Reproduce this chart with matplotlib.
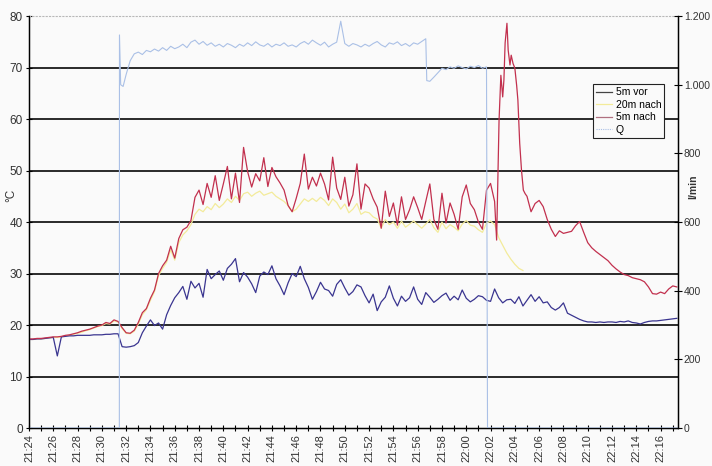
import numpy as np
import matplotlib
matplotlib.use('Agg')
import matplotlib.pyplot as plt
from matplotlib.ticker import MultipleLocator, FixedLocator, FuncFormatter

plt.rcParams['font.family'] = ['Liberation Sans', 'DejaVu Sans']

# time in minutes after 21:24, one sample every 20 s
t = np.arange(161) / 3.0

vor_5m = [17.2, 17.2, 17.3, 17.3, 17.4, 17.5, 17.6, 14.0, 17.7, 17.8,
          17.9, 17.9, 18.0, 18.0, 18.0, 18.0, 18.1, 18.1, 18.1, 18.2,
          18.2, 18.3, 18.3, 15.8, 15.7, 15.8, 16.0, 16.6, 18.5, 19.8,
          21.0, 19.9, 20.4, 19.2, 22.0, 23.8, 25.3, 26.3, 27.5, 25.0,
          28.5, 27.2, 28.1, 25.4, 30.8, 29.0, 29.8, 30.5, 28.7, 31.0,
          31.8, 32.9, 28.4, 30.2, 29.3, 28.0, 26.3, 29.5, 30.3, 29.8,
          31.5, 29.0, 27.6, 25.9, 28.2, 30.0, 29.4, 31.4, 29.0, 27.3,
          25.0, 26.5, 28.3, 27.0, 26.7, 25.6, 27.9, 28.8, 27.2, 25.8,
          26.5, 27.8, 27.4, 25.7, 24.3, 26.0, 22.8, 24.5, 25.4, 27.6,
          25.2, 23.7, 25.6, 24.6, 25.3, 27.4, 25.0, 24.0, 26.3, 25.4,
          24.4, 25.0, 25.7, 26.2, 24.8, 25.6, 24.9, 26.8, 25.2, 24.5,
          25.0, 25.7, 25.5, 24.8, 24.6, 27.0, 25.3, 24.3, 24.9, 25.0,
          24.2, 25.5, 23.7, 24.8, 25.9, 24.6, 25.5, 24.3, 24.5, 23.4,
          22.9, 23.4, 24.3, 22.3, 21.9, 21.5, 21.1, 20.8, 20.6, 20.6,
          20.5, 20.6, 20.5, 20.6, 20.6, 20.5, 20.7, 20.6, 20.8, 20.5,
          20.4, 20.2, 20.5, 20.7, 20.8, 20.8, 20.9, 21.0, 21.1, 21.2,
          21.3]

nach_20m = [17.2, 17.2, 17.3, 17.3, 17.4, 17.5, 17.6, 17.6, 17.7, 17.9,
            18.0, 18.2, 18.4, 18.6, 18.9, 19.1, 19.4, 19.7, 19.9, 20.3,
            20.2, 20.8, 20.6, 19.3, 18.4, 18.3, 18.8, 20.2, 22.0, 23.0,
            24.8, 26.5, 29.6, 31.0, 32.2, 34.6, 32.6, 36.0, 37.5, 38.3,
            39.5, 41.5, 42.5, 42.0, 43.0, 42.4, 43.6, 42.8, 43.5, 44.5,
            43.8, 45.0, 44.2, 45.5, 45.8, 45.0, 45.6, 46.0, 45.2, 45.5,
            45.8, 45.0, 44.5, 44.0, 43.2, 42.0, 42.5, 43.5, 44.5, 44.0,
            44.6, 44.0, 44.8, 44.2, 43.2, 44.5, 43.8, 42.5, 43.5, 41.8,
            42.5, 43.6, 41.5, 42.0, 41.8, 41.0, 40.6, 38.8, 40.5, 39.5,
            40.0, 38.8, 40.2, 39.0, 39.6, 40.2, 39.5, 38.8, 39.6, 40.5,
            38.9, 38.0, 40.0, 38.7, 39.5, 39.0, 38.3, 39.6, 40.3, 39.4,
            39.2, 38.5, 38.0, 39.8, 40.2, 39.5, 37.0, 35.5, 34.0, 32.8,
            31.8, 31.0, 30.6] + [np.nan] * 38

# 5m nach: grid part up to 22:02:20, finer samples around the peak, grid tail
nach_5m_a = [17.3, 17.3, 17.4, 17.4, 17.5, 17.6, 17.7, 17.7, 17.8, 18.0,
             18.1, 18.3, 18.5, 18.8, 19.0, 19.2, 19.5, 19.8, 20.0, 20.5,
             20.3, 21.0, 20.7, 19.5, 18.5, 18.4, 19.0, 20.5, 22.4, 23.2,
             25.2, 26.8, 30.0, 31.5, 32.6, 35.3, 33.0, 36.8, 38.5, 39.0,
             40.3, 44.8, 46.2, 43.4, 47.5, 44.8, 49.0, 44.2, 47.4, 50.8,
             44.5, 49.5, 43.8, 54.5, 49.8, 46.8, 49.4, 48.0, 52.5, 46.9,
             50.6, 48.8, 47.6, 46.2, 43.2, 42.0, 44.6, 47.5, 53.2, 46.4,
             48.7, 47.0, 49.5, 47.4, 44.3, 52.6, 46.6, 44.4, 48.7, 43.1,
             45.3, 51.3, 42.5, 47.4, 46.6, 44.5, 42.9, 38.8, 46.0, 41.1,
             43.7, 39.4, 44.9, 40.5, 42.4, 44.9, 42.8, 40.5, 44.0, 47.4,
             40.5, 38.6, 45.6, 39.8, 43.7, 41.5, 38.6, 44.9, 47.2, 43.6,
             42.4, 40.0, 38.6, 46.2, 47.5, 44.0]
peak_t = [38.5, 38.6, 38.7, 38.85, 39.0, 39.1, 39.2, 39.35, 39.45, 39.6,
          39.7, 39.85, 40.0, 40.15, 40.25, 40.4, 40.55, 40.7, 40.85]
peak_v = [36.5, 48.0, 59.8, 68.5, 64.3, 67.6, 74.8, 78.6, 73.4, 70.5,
          72.4, 70.8, 69.9, 66.5, 63.7, 55.3, 50.0, 46.2, 45.5]
nach_5m_b = [45.0, 42.0, 43.6, 44.2, 43.0, 40.5, 38.6, 37.2, 38.3, 37.8,
             38.0, 38.2, 39.3, 40.1, 38.0, 36.0, 35.0, 34.3, 33.7, 33.1,
             32.5, 31.6, 30.9, 30.3, 29.8, 29.6, 29.2, 29.0, 28.8, 28.4,
             27.4, 26.1, 26.0, 26.4, 26.1, 27.0, 27.6, 27.4]

# Q (l/min), right axis
q_t = np.r_[[0, 7.44, 7.45, 7.55, 7.75], t[24:99],
            [32.75, 33.0, 33.33, 33.67, 34.0], t[103:114], [37.75, 53.4]]
q_v = [0, 0, 1145, 1000, 995,
       1030, 1070, 1090, 1095, 1088, 1100, 1096, 1104, 1098, 1108,
       1100, 1112, 1105, 1110, 1118, 1108, 1124, 1130, 1118, 1126,
       1115, 1122, 1112, 1118, 1110, 1120, 1115, 1108, 1118, 1112,
       1122, 1114, 1125, 1116, 1112, 1120, 1110, 1118, 1114, 1122,
       1112, 1116, 1110, 1120, 1126, 1118, 1130, 1122, 1115, 1124,
       1110, 1118, 1124, 1185, 1120, 1112, 1120, 1116, 1110, 1118,
       1112, 1120, 1126, 1116, 1110, 1122, 1118, 1125, 1114, 1120,
       1112, 1122, 1118, 1126, 1134,
       1012, 1010, 1022, 1035, 1048,
       1044, 1052, 1048, 1055, 1050, 1046, 1054, 1050, 1056, 1048, 1052,
       0, 0]

x_labels = ['21:%02d' % m for m in range(24, 60, 2)] + ['22:%02d' % m for m in range(0, 18, 2)]

t5 = np.r_[t[:116], peak_t, t[123:]]
v5 = list(nach_5m_a) + peak_v + nach_5m_b

fig = plt.figure(figsize=(7.12, 4.66), dpi=100, facecolor='#fafafa')
ax = fig.add_axes([0.0407, 0.0815, 0.911, 0.884])
ax.set_facecolor('#fafafa')

for y in range(10, 80, 10):
    ax.axhline(y, color='#1a1a1a', lw=1.3, zorder=1)

l1, = ax.plot(t, vor_5m, color='#3a3590', lw=0.9, label='5m vor', zorder=3)
l2, = ax.plot(t, nach_20m, color='#f3eb9a', lw=0.9, label='20m nach', zorder=2)
l3, = ax.plot(t5, v5, color='#c2304e', lw=0.9, label='5m nach', zorder=3)

ax.set_xlim(0, 53.4)
ax.set_ylim(0, 80)
ax.set_yticks(range(0, 81, 10))
ax.xaxis.set_major_locator(FixedLocator(np.arange(0, 53, 2)))
ax.xaxis.set_minor_locator(MultipleLocator(1))
ax.set_xticklabels(x_labels, rotation=90)
ax.tick_params(axis='x', which='both', direction='inout', length=5, width=0.8,
               labelsize=8, labelcolor='#333333', pad=2)
ax.tick_params(axis='y', direction='inout', length=5, width=0.8,
               labelsize=8.5, labelcolor='#333333', pad=2)
fig.text(0.016, 0.58, '°C', fontsize=8.5, color='#333333', rotation=90,
         ha='center', va='center')

ax.spines['top'].set_color('#b8b8b8')
ax.spines['top'].set_linestyle((0, (1, 2)))
ax.spines['left'].set_linewidth(1.0)
ax.spines['bottom'].set_linewidth(1.0)

ax2 = ax.twinx()
l4, = ax2.plot(q_t, q_v, color='#aac0e6', lw=0.8, label='Q', zorder=2)
ax2.set_ylim(0, 1200)
ax2.set_yticks(range(0, 1201, 200))
ax2.yaxis.set_major_formatter(FuncFormatter(lambda v, p: ('%d' % v) if v < 1000 else '%d.%03d' % (v // 1000, v % 1000)))
ax2.tick_params(axis='y', direction='inout', length=6, width=0.8,
                labelsize=7.5, labelcolor='#333333', pad=1.5)
fig.text(0.973, 0.60, 'l/min', fontsize=7.5, fontweight='bold', color='#333333',
         rotation=90, ha='center', va='center')
ax2.spines['top'].set_visible(False)
ax2.spines['right'].set_linewidth(1.0)

leg = ax2.legend(handles=[l1, l2, l3, l4], loc='upper left', bbox_to_anchor=(0.869, 0.835),
                 fontsize=7.5, frameon=True, fancybox=False, handlelength=1.6,
                 handletextpad=0.3, borderpad=0.3, labelspacing=0.25, borderaxespad=0)
leg.get_frame().set_edgecolor('#222222')
leg.get_frame().set_linewidth(0.8)
leg.get_frame().set_facecolor('#fafafa')
leg.get_frame().set_alpha(1)
leg.legend_handles[0].set_color('#444444')
leg.legend_handles[2].set_color('#b07080')
leg.legend_handles[3].set_linestyle((0, (1, 1)))

fig.savefig('out.png', dpi=100, facecolor=fig.get_facecolor())
